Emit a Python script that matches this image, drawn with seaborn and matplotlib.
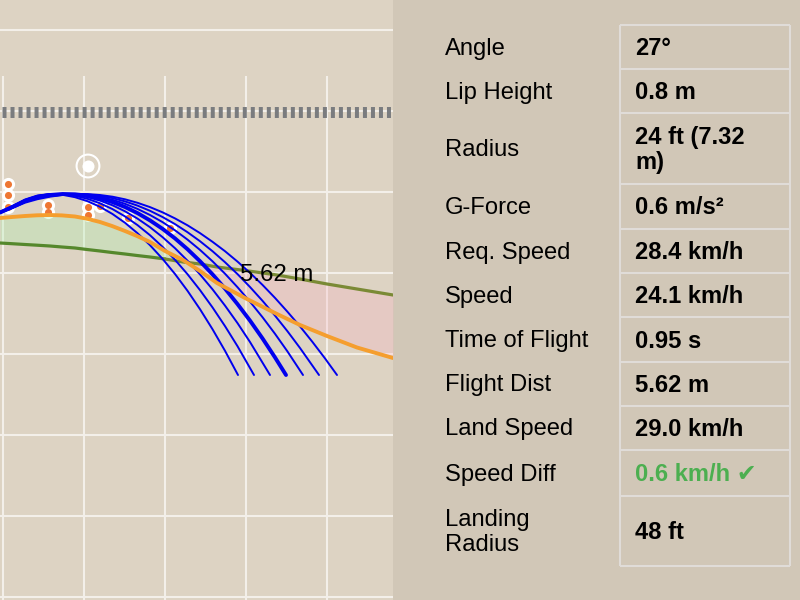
import numpy as np
import pandas as pd
import matplotlib
matplotlib.use("Agg")
import matplotlib.pyplot as plt
import seaborn as sns

# profile values, canvas units (y goes down)
profile_x = [0, 12, 25, 37, 50, 62, 75, 87, 100, 112, 125, 137, 150, 165, 183, 200, 217, 245, 277, 300, 327, 357, 393]
rider_y = [218, 217, 216, 215.3, 215, 215.4, 216.5, 218.7, 222, 226, 231, 236, 242, 251, 260, 271, 283, 298, 314, 325, 336, 347.5, 358]
ground_y = [243, 243.7, 244.5, 245.2, 246, 247, 248, 249.5, 251, 252.5, 254, 255.5, 257, 259, 262, 264, 267, 270.5, 275, 279, 284, 289, 295]

# trajectories, same x steps then each arc's own landing point
arc_x = [0, 12.5, 25, 37.5, 50, 62.5, 75, 87.5, 100, 112.5, 125, 137.5, 150, 162.5, 175, 187.5, 200, 212.5,
         225, 237.5, 250, 262.5, 275, 287.5, 300, 312.5, 325]
arc1_y = [212, 206, 199.5, 195.5, 194, 194.8, 197.2, 201.2, 206.8, 214, 222.8, 233.2, 245.2, 258.8, 274, 290.8, 309.2, 329.2, 350.8]
arc2_y = [212, 206.2, 200, 195.9, 194.1, 194.3, 195.8, 198.8, 203.3, 209.1, 216.4, 225.1, 235.2, 246.8, 259.8, 274.2, 290.1, 307.4, 326.1, 346.2]
arc3_y = [212.3, 206.6, 200.6, 196.4, 194.4, 194, 194.9, 197.1, 200.6, 205.3, 211.3, 218.6, 227.2, 237.1, 248.2, 260.7, 274.4, 289.3, 305.6, 323.1, 342]
arc4_y = [212.5, 207, 201, 197, 195, 194, 194.3, 195.7, 198.3, 202.1, 207, 213.1, 220.4, 228.8, 238.4, 249.2, 261.2, 274.3, 288.6, 304.1, 320.6, 338.4, 357.4]
arc5_y = [212.7, 207.4, 201.4, 197.5, 195.5, 194.2, 194.1, 195, 196.8, 199.8, 203.8, 208.9, 215, 222.1, 230.3, 239.6, 249.9, 261.3, 273.7, 287.2, 301.7, 317.2, 333.8, 351.5]
arc6_y = [212.8, 207.7, 202, 198.1, 196.1, 194.6, 194, 194.4, 195.8, 198.1, 201.4, 205.6, 210.8, 217, 224.1, 232.2, 241.2, 251.2, 262.2, 274.1, 287, 300.8, 315.6, 331.3, 348]
arc7_y = [213, 208, 202.7, 199.2, 196.7, 195, 194.1, 194.1, 195, 196.7, 199.3, 202.8, 207.1, 212.3, 218.4, 225.3, 233.1, 241.8, 251.2, 261.6, 272.8, 284.9, 297.9, 311.8, 326.4, 342, 358.4]
arc_end_x = [238, 254, 270, 286, 303, 319, 337]
arc_end_y = 375

dots_x = [8, 8, 8, 48, 48, 88, 88, 100, 128, 170]
dots_y = [184, 195, 207, 205, 212, 207, 215, 206, 218, 228]
target_x = [88]
target_y = [166]

row_labels = ["Angle", "Lip Height", "Radius", "G-Force", "Req. Speed", "Speed",
              "Time of Flight", "Flight Dist", "Land Speed", "Speed Diff", "Landing\nRadius"]
row_values = ["27°", "0.8 m", "24 ft (7.32\nm)", "0.6 m/s²", "28.4 km/h", "24.1 km/h",
              "0.95 s", "5.62 m", "29.0 km/h", "0.6 km/h ✔", "48 ft"]
row_edges = [25, 69, 113, 184, 229, 273, 317, 362, 406, 450, 496, 566]

sns.set_theme(style="whitegrid")
plt.rcParams["font.family"] = ["Liberation Sans", "DejaVu Sans"]

fig = plt.figure(figsize=(8, 6), dpi=100, facecolor="#d1c7b7")
ax = fig.add_axes([0, 0, 393 / 800, 1], facecolor="#ddd3c3")
ax.set_xlim(0, 393)
ax.set_ylim(600, 0)
ax.set_xticks([])
ax.set_yticks(np.arange(30, 600, 81))
ax.grid(True, axis="y", color="#f3efe9", linewidth=1.5)
ax.set_axisbelow(True)
# verticals stop short of the top
ax.vlines(np.arange(3, 393, 81), 76, 600, color="#f3efe9", linewidth=1.5, zorder=1)
ax.tick_params(left=False, bottom=False, labelleft=False, labelbottom=False)
for s in ax.spines.values():
    s.set_visible(False)

# gray dashed band
ax.plot([2, 393], [111.5, 111.5], color="#7a7c7f", linewidth=7.9, dashes=(0.365, 0.365),
        dash_capstyle="butt", zorder=2)

# dots with white halo
sns.scatterplot(x=dots_x, y=dots_y, ax=ax, color="white", s=90, linewidth=0, zorder=2)
sns.scatterplot(x=dots_x, y=dots_y, ax=ax, color="#ee7733", s=26, linewidth=0, zorder=2)
sns.scatterplot(x=target_x, y=target_y, ax=ax, color="white", s=75, linewidth=0, zorder=3)
sns.scatterplot(x=target_x, y=target_y, ax=ax, facecolor="none", edgecolor="white", s=270, linewidth=1.5, zorder=3)

# fills between rider line and ground
rx = np.array(profile_x)
ry = np.array(rider_y)
gy = np.array(ground_y)
ax.fill_between(rx, ry, gy, where=ry <= gy, interpolate=True, color="#abf1ac", alpha=0.3, lw=0, zorder=3)
ax.fill_between(rx, ry, gy, where=ry >= gy, interpolate=True, color="#f8b5c3", alpha=0.3, lw=0, zorder=3)

# ground line, goes olive past the crossing
sns.lineplot(x=profile_x[:14], y=ground_y[:14], ax=ax, color="#55882c", linewidth=2.3, sort=False, estimator=None, zorder=4)
sns.lineplot(x=profile_x[13:], y=ground_y[13:], ax=ax, color="#7a8a35", linewidth=2.3, sort=False, estimator=None, zorder=4)

# trajectories
all_arcs = [arc1_y, arc2_y, arc3_y, arc4_y, arc5_y, arc6_y, arc7_y]
rows = []
for i, ys in enumerate(all_arcs):
    for x, y in zip(arc_x, ys):
        rows.append({"arc": i, "x": x, "y": y})
    rows.append({"arc": i, "x": arc_end_x[i], "y": arc_end_y})
arc_df = pd.DataFrame(rows)
sns.lineplot(data=arc_df[arc_df["arc"] != 3], x="x", y="y", units="arc", ax=ax, color="#0000ee", linewidth=1.4,
             estimator=None, sort=False, zorder=5)
sns.lineplot(data=arc_df[arc_df["arc"] == 3], x="x", y="y", ax=ax, color="#0000ee", linewidth=2.8,
             estimator=None, sort=False, zorder=5)

# orange rider line on top
sns.lineplot(x=profile_x, y=rider_y, ax=ax, color="#f59e2e", linewidth=2.8, sort=False, estimator=None, zorder=6)

ax.text(277, 275, "5.62 m", fontsize=17.3, color="black", ha="center", va="center", zorder=7)
ax.set_xlabel("")
ax.set_ylabel("")

# right side table
tb = fig.add_axes([393 / 800, 0, 407 / 800, 1], facecolor="#d1c7b7")
tb.set_xlim(393, 800)
tb.set_ylim(600, 0)
tb.axis("off")
tb.hlines(row_edges, 620, 790, color="#e0dcd8", linewidth=1.5)
tb.vlines([620, 790], row_edges[0], row_edges[-1], color="#e0dcd8", linewidth=1.5)
for i in range(len(row_labels)):
    mid = (row_edges[i] + row_edges[i + 1]) / 2 + 1.5
    tb.text(445, mid, row_labels[i], fontsize=17.1, color="black", va="center", ha="left", linespacing=1.15)
    col = "#4caf50" if "✔" in row_values[i] else "black"
    tb.text(635, mid, row_values[i], fontsize=17.1, fontweight="bold", color=col, va="center", ha="left", linespacing=1.15)

fig.savefig("out.png", dpi=100, facecolor=fig.get_facecolor())
